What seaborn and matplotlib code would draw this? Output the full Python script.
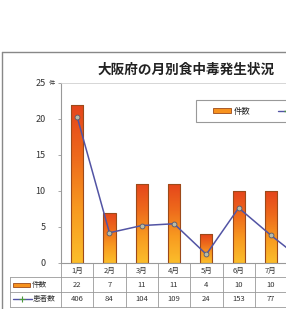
import numpy as np
import pandas as pd
import seaborn as sns
import matplotlib.pyplot as plt
import matplotlib.transforms as mtrans
from matplotlib.colors import LinearSegmentedColormap
from matplotlib.patches import Patch, Rectangle
from matplotlib.lines import Line2D

# data (8月 is cut off at the right edge of the picture)
months = ['1月', '2月', '3月', '4月', '5月', '6月', '7月', '8月']
cases = [22, 7, 11, 11, 4, 10, 10, 5]
patients = [406, 84, 104, 109, 24, 153, 77, 6]
yticks = [0, 5, 10, 15, 20, 25]
title = '大阪府の月別食中毒発生状況'

sns.set_style('white')
plt.rcParams['font.family'] = ['Noto Sans CJK JP', 'DejaVu Sans']

W, H = 286, 309
fig = plt.figure(figsize=(W / 100, H / 100), dpi=100)

def fx(px):
    return px / W

def fy(py):
    return 1 - py / H

slot = 32.3
ax_w = len(months) * slot
ax = fig.add_axes([fx(61), fy(263), ax_w / W, (263 - 83) / H])

df = pd.DataFrame({'month': months, 'cases': cases, 'patients': patients})
sns.barplot(data=df, x='month', y='cases', ax=ax, width=0.38, color='#f7921e',
            edgecolor='#9c4a1a', linewidth=0.8)

# gradient fill for the bars
grad = LinearSegmentedColormap.from_list('g', ['#fbbd2b', '#f89a20', '#ee6a1c', '#e5451b'])
for p in ax.patches:
    x0, y0, w, h = p.get_x(), p.get_y(), p.get_width(), p.get_height()
    im = ax.imshow(np.linspace(0, 1, 100).reshape(-1, 1), cmap=grad, origin='lower',
                   extent=[x0, x0 + w, y0, y0 + h], aspect='auto', zorder=0.5)
    im.set_clip_path(p)
    p.set_facecolor('none')
    p.set_zorder(1)

ax.set_xlim(-0.5, len(months) - 0.5)
ax.set_ylim(0, 25)
ax.set_yticks(yticks)
ax.set_yticklabels([str(t) for t in yticks])
ax.tick_params(axis='y', left=True, length=2, width=0.6, color='#999999', pad=9,
               labelsize=6.5, labelcolor='#333333')
ax.tick_params(axis='x', bottom=False, labelbottom=False)
ax.set_xlabel('')
ax.set_ylabel('')
for s in ['left', 'bottom']:
    ax.spines[s].set_color('#999999')
    ax.spines[s].set_linewidth(0.8)
ax.spines['top'].set_color('#d0d0d0')
ax.spines['top'].set_linewidth(0.6)
ax.spines['right'].set_visible(False)
fig.text(fx(49), fy(83), '件', fontsize=4.5, color='#333333', ha='left', va='center')

# patients line on a hidden secondary axis (0-500)
ax2 = ax.twinx()
sns.lineplot(x=np.arange(len(months)), y=patients, ax=ax2, color='#5254a4', lw=1.1,
             marker='o', markersize=3.5, markerfacecolor='#b8bca8', markeredgecolor='#555a70',
             markeredgewidth=0.6)
ax2.set_ylim(0, 500)
ax2.set_xlim(-0.5, len(months) - 0.5)
ax2.axis('off')

# data table under the axes
trans = mtrans.blended_transform_factory(ax.transData, ax.transAxes)
px = 180.0
bounds = [0, -14 / px, -29 / px, -44 / px]
centers = [-8 / px, -22 / px, -36 / px]
lc = '#999999'
for i in range(len(months) + 1):
    ax.add_line(Line2D([i - 0.5, i - 0.5], [bounds[0], bounds[-1]], transform=trans,
                       color=lc, lw=0.6, clip_on=False))
for b in bounds[1:]:
    ax.add_line(Line2D([-0.5, len(months) - 0.5], [b, b], transform=trans,
                       color=lc, lw=0.6, clip_on=False))
left = (10 - 61) / ax_w
for b in bounds[1:]:
    ax.add_line(Line2D([left, 0], [b, b], transform=ax.transAxes, color=lc, lw=0.6, clip_on=False))
ax.add_line(Line2D([left, left], [bounds[1], bounds[-1]], transform=ax.transAxes,
                   color=lc, lw=0.6, clip_on=False))
# the 8月 column lies past the picture edge, so only the visible columns get text
for i, m in enumerate(months[:-1]):
    for row, val in zip(centers, [m, cases[i], patients[i]]):
        ax.text(i, row, str(val), transform=trans, ha='center', va='center',
                fontsize=5.5, color='#333333', clip_on=False)

# row headers with legend keys
ax.add_patch(Rectangle(((13 - 61) / ax_w, centers[1] - 2 / px), 17 / ax_w, 4 / px,
                       transform=ax.transAxes, facecolor='#f7921e', edgecolor='#9c4a1a',
                       lw=0.6, clip_on=False))
ax.text((32 - 61) / ax_w, centers[1], '件数', transform=ax.transAxes, ha='left', va='center',
        fontsize=5.5, color='#333333')
ax.add_line(Line2D([(13 - 61) / ax_w, (32 - 61) / ax_w], [centers[2], centers[2]],
                   transform=ax.transAxes, color='#5254a4', lw=1.0, clip_on=False))
ax.add_line(Line2D([(22 - 61) / ax_w], [centers[2]], transform=ax.transAxes, marker='+',
                   color='#4a9a3a', markersize=4, mew=0.8, clip_on=False))
ax.text((33 - 61) / ax_w, centers[2], '患者数', transform=ax.transAxes, ha='left', va='center',
        fontsize=5.5, color='#333333')

# legend: frame drawn separately so the entries can sit further in
fig.add_artist(Rectangle((fx(196), fy(122)), 1.0, (122 - 100) / H, transform=fig.transFigure,
                         facecolor='white', edgecolor='#999999', lw=0.8, zorder=3))
handles = [Patch(facecolor='#f7921e', edgecolor='#9c4a1a', lw=0.6),
           Line2D([], [], color='#5254a4', lw=1.0, marker='+', markeredgecolor='#4a9a3a',
                  markersize=4)]
leg = fig.legend(handles, ['件数', '患者数'], loc='center left', bbox_to_anchor=(fx(213), fy(111)),
                 ncol=2, fontsize=6, frameon=False, handlelength=2.2, handleheight=0.5,
                 columnspacing=3.3, borderpad=0, borderaxespad=0, handletextpad=0.25)
leg.set_zorder(4)

fig.text(fx(186), fy(70), title, ha='center', va='center', fontsize=9.8, fontweight='bold',
         color='#222222')
fig.text(fx(281), fy(71), '（', ha='left', va='center', fontsize=6, color='#555555')

# outer frame of the chart
fig.add_artist(Line2D([fx(2), 1.0], [fy(52), fy(52)], color='#888888', lw=1.0))
fig.add_artist(Line2D([fx(2), fx(2)], [fy(52), 0.0], color='#888888', lw=1.0))

fig.savefig('out.png', dpi=100)
